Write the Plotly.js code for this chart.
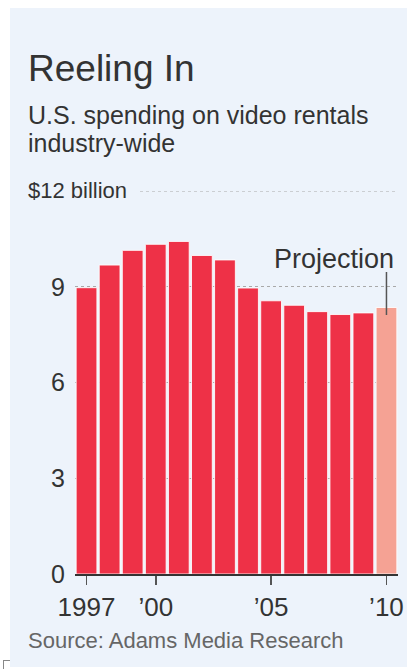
<!DOCTYPE html>
<html>
<head>
<meta charset="utf-8">
<script src="https://cdn.plot.ly/plotly-3.0.1.min.js"></script>
<style>
  html, body { margin: 0; padding: 0; background: #ffffff; width: 407px; height: 669px; overflow: hidden; }
  #chart { position: absolute; left: 10px; top: 8px; width: 397px; height: 659px; }
  #corner { position: absolute; left: 3px; top: 660px; width: 7px; height: 8px; border-left: 1px solid #888; border-top: 1px solid #888; }
</style>
</head>
<body>
<div id="corner"></div>
<div id="chart"></div>
<script>
// ---- data ----
const years = [1997, 1998, 1999, 2000, 2001, 2002, 2003, 2004, 2005, 2006, 2007, 2008, 2009, 2010];
const spending = [8.97, 9.68, 10.14, 10.33, 10.42, 9.98, 9.84, 8.96, 8.56, 8.42, 8.22, 8.13, 8.18, 8.35];
const isProjection = [false, false, false, false, false, false, false, false, false, false, false, false, false, true];
const xTickVals = [1997, 2000, 2005, 2010];
const xTickText = ['1997', '\u201900', '\u201905', '\u201910'];
const yTickVals = [0, 3, 6, 9];
const yTickText = ['0', '3', '6', '9'];
const titleText = 'Reeling In';
const subtitleLines = ['U.S. spending on video rentals', 'industry-wide'];
const topLabel = '$12 billion';
const topValue = 12;
const projectionLabel = 'Projection';
const sourceText = 'Source: Adams Media Research';

// ---- layout geometry (div pixels) ----
const W = 397, H = 659;
const M = { l: 65, r: 9, t: 183, b: 93 };
const PW = W - M.l - M.r, PH = H - M.t - M.b;
const OX = 10, OY = 8; // div offset in page
const px = x => (x - OX - M.l) / PW;           // page x -> paper x
const py = y => (H - M.b - (y - OY)) / PH;     // page y -> paper y

const RED = '#ee3147';
const PINK = '#f5a294';
const BG = '#edf3fb';
const NARROW = '"Liberation Sans Narrow", "Liberation Sans", Arial, sans-serif';
const SANS = '"Liberation Sans", Arial, sans-serif';

const trace = {
  type: 'bar',
  x: years,
  y: spending,
  marker: {
    color: isProjection.map(p => p ? PINK : RED),
    line: { color: 'rgba(255,255,255,0.85)', width: 1 }
  },
  hoverinfo: 'x+y'
};

const ann = (text, x, y, xanchor, size, family, color) => ({
  text, x, y, xref: 'paper', yref: 'paper', xanchor, yanchor: 'middle',
  showarrow: false, borderpad: 0,
  font: { size, family, color }
});

const layout = {
  width: W, height: H,
  margin: M,
  paper_bgcolor: BG,
  plot_bgcolor: BG,
  showlegend: false,
  bargap: 0.1,
  xaxis: {
    range: [1996.5, 2010.5],
    tickmode: 'array', tickvals: xTickVals, ticktext: xTickText,
    ticks: 'outside', ticklen: 9, tickwidth: 1.5, tickcolor: '#555',
    showline: true, linecolor: '#333', linewidth: 2,
    showgrid: false, zeroline: false,
    tickfont: { family: NARROW, size: 26, color: '#333' },
    fixedrange: true
  },
  yaxis: {
    range: [0, 12],
    tickmode: 'array', tickvals: yTickVals, ticktext: yTickText,
    ticks: '', ticklabelstandoff: 9,
    showgrid: true, gridcolor: '#a9a9a9', griddash: 'dot', gridwidth: 1,
    zeroline: false, showline: false,
    tickfont: { family: NARROW, size: 25, color: '#333' },
    fixedrange: true
  },
  shapes: [
    { type: 'line', xref: 'paper', yref: 'y', x0: px(140), x1: 1, y0: topValue, y1: topValue,
      line: { color: '#a9a9a9', width: 1, dash: 'dot' }, layer: 'below' },
    { type: 'line', xref: 'x', yref: 'paper', x0: years[years.length - 1], x1: years[years.length - 1],
      y0: py(315), y1: py(272), line: { color: '#555', width: 1.5 } }
  ],
  annotations: [
    ann(titleText, px(27), py(69), 'left', 37, SANS, '#333'),
    ann(subtitleLines[0], px(27), py(114.6), 'left', 25, SANS, '#333'),
    ann(subtitleLines[1], px(27), py(143), 'left', 25, SANS, '#333'),
    ann(topLabel, px(27), py(190.4), 'left', 22, SANS, '#333'),
    ann(projectionLabel, px(395), py(259), 'right', 27, NARROW, '#333'),
    ann(sourceText, px(27), py(640.4), 'left', 22, NARROW, '#666')
  ]
};

Plotly.newPlot('chart', [trace], layout, { displayModeBar: false, staticPlot: true });
</script>
</body>
</html>
